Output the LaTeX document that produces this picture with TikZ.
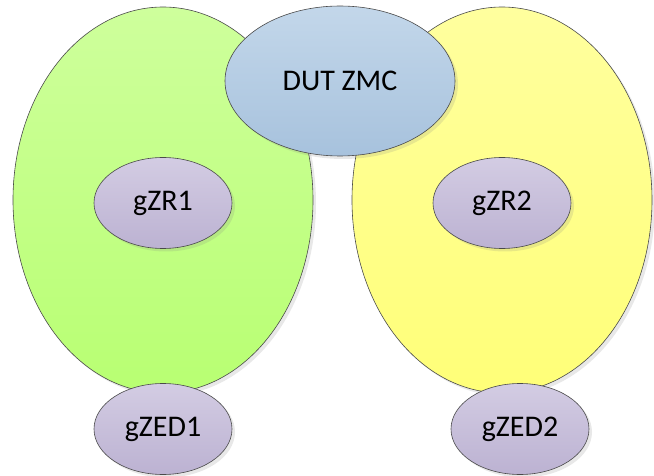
\documentclass[tikz,border=0pt]{standalone}
\usepackage{fontspec}
\setmainfont{Carlito}
\usetikzlibrary{shapes.geometric,shadows}
\definecolor{edgegray}{HTML}{4A4A4A}
\definecolor{greentop}{HTML}{CEFF9C}
\definecolor{greenbot}{HTML}{B8FF72}
\definecolor{yellowtop}{HTML}{FFFF9E}
\definecolor{yellowbot}{HTML}{FFFF78}
\definecolor{bluetop}{HTML}{C3D7EA}
\definecolor{bluebot}{HTML}{A7C2DD}
\definecolor{lilactop}{HTML}{D3CCE3}
\definecolor{lilacbot}{HTML}{BCB2D2}
\tikzset{
  blob/.style={ellipse, draw=edgegray, line width=0.6pt, inner sep=0pt,
    drop shadow={opacity=0.18, shadow xshift=3pt, shadow yshift=-3pt}},
  zone/.style={blob, minimum width=300pt, minimum height=386pt},
  greenzone/.style={zone, top color=greentop, bottom color=greenbot},
  yellowzone/.style={zone, top color=yellowtop, bottom color=yellowbot},
  hub/.style={blob, minimum width=230pt, minimum height=150pt,
    top color=bluetop, bottom color=bluebot, font=\fontsize{30}{34}\selectfont},
  member/.style={blob, minimum width=138pt, minimum height=91pt,
    top color=lilactop, bottom color=lilacbot, font=\fontsize{30}{34}\selectfont}
}
\begin{document}
\begin{tikzpicture}[x=1pt,y=-1pt]
  \useasboundingbox (0,0) rectangle (654,476);
  % two network zones
  \node[greenzone] (zoneA) at (163,200) {};
  \node[yellowzone] (zoneB) at (502,200) {};
  % coordinator under test
  \node[hub] (dut) at (340,81) {DUT ZMC};
  % routers
  \node[member] (zr1) at (163,203) {gZR1};
  \node[member] (zr2) at (502,203) {gZR2};
  % end devices
  \node[member] (zed1) at (163,429) {gZED1};
  \node[member] (zed2) at (520,429) {gZED2};
\end{tikzpicture}
\end{document}
